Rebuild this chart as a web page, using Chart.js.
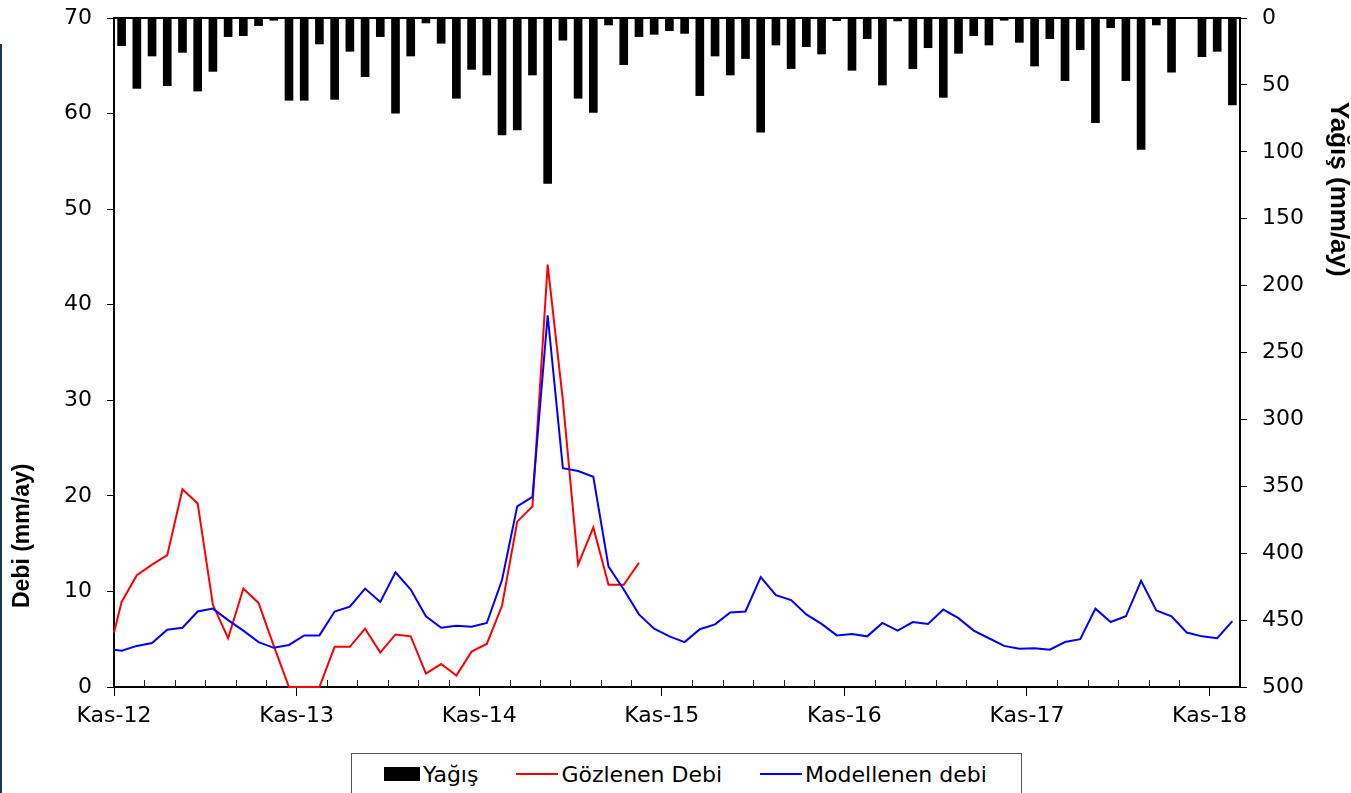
<!DOCTYPE html>
<html lang="tr">
<head>
<meta charset="utf-8">
<title>Yağış ve Debi</title>
<script src="https://cdn.jsdelivr.net/npm/chart.js@4.4.1/dist/chart.umd.min.js"></script>
<style>
  html, body { margin: 0; padding: 0; background: #fff; overflow: hidden; }
  #wrap { position: relative; width: 1351px; height: 793px; }
  #edge { position: absolute; left: 0; top: 44px; width: 2px; height: 749px; background: #1b3a48; }
  #legend {
    position: absolute; left: 351px; top: 753px; width: 669px; height: 40px;
    border: 1px solid #555; background: #fff;
    display: flex; align-items: center;
    font-family: "DejaVu Sans", sans-serif; font-size: 22px; color: #000;
  }
  #legend .item { display: flex; align-items: center; margin-left: 38px; white-space: nowrap; }
  #legend .item:first-child { margin-left: 32px; }
  #legend .sw { display: inline-block; margin-right: 3px; }
</style>
</head>
<body>
<div id="wrap">
  <canvas id="c" width="1351" height="793"></canvas>
  <div id="edge"></div>
  <div id="legend"></div>
</div>
<script>
// Axis labels: one every 12 months, starting November 2012
const tickLabels = ['Kas-12', 'Kas-13', 'Kas-14', 'Kas-15', 'Kas-16', 'Kas-17', 'Kas-18'];

// Monthly precipitation (mm/ay), Kasım 2012 – Aralık 2018
const yagis = [
  20.7, 52.6, 28.4, 50.6, 25.7, 54.6, 39.9, 13.9, 13.2, 5.7, 1.7, 61.5,
  61.5, 19.4, 60.8, 24.9, 43.8, 13.9, 71.2, 28.4, 3.7, 18.9, 60.0, 38.4,
  42.6, 87.4, 83.7, 42.6, 123.6, 16.6, 60.0, 70.5, 5.2, 34.9, 13.9, 12.2,
  9.5, 11.5, 58.0, 28.4, 42.6, 30.3, 85.4, 20.2, 37.8, 21.4, 26.9, 2.0,
  39.1, 15.4, 50.1, 2.2, 37.9, 22.2, 59.3, 26.4, 13.2, 20.2, 1.7, 18.2,
  35.9, 15.4, 46.8, 23.7, 78.2, 7.2, 46.8, 98.2, 5.2, 40.5, 0, 28.9,
  24.9, 65.0
];

// Observed discharge (mm/ay); first value sits at the start of the period
const gozlenenDebi = [
  5.7, 8.9, 11.7, 12.8, 13.8, 20.7, 19.2, 8.6, 5.1, 10.3, 8.8, 4.3,
  0, 0, 0, 4.2, 4.2, 6.1, 3.6, 5.5, 5.3, 1.4, 2.4, 1.2,
  3.7, 4.5, 8.5, 17.3, 18.9, 44.2, 30.0, 12.8, 16.7, 10.7, 10.7, 13.0
];

// Modelled discharge (mm/ay)
const modellenenDebi = [
  3.9, 3.8, 4.3, 4.6, 6.0, 6.2, 7.9, 8.2, 7.0, 5.9, 4.7, 4.1,
  4.4, 5.4, 5.4, 7.9, 8.4, 10.3, 8.9, 12.0, 10.2, 7.4, 6.2, 6.4,
  6.3, 6.7, 11.2, 18.9, 19.9, 38.9, 22.9, 22.6, 22.0, 12.6, 10.2, 7.6,
  6.1, 5.3, 4.7, 6.05, 6.55, 7.8, 7.9, 11.5, 9.6, 9.1, 7.6, 6.6,
  5.4, 5.55, 5.3, 6.7, 5.9, 6.8, 6.6, 8.1, 7.2, 5.9, 5.1, 4.3,
  4.0, 4.05, 3.9, 4.7, 5.0, 8.2, 6.8, 7.4, 11.1, 8.0, 7.4, 5.7,
  5.3, 5.1, 6.9
];

// Month offsets from Kasım 2012: bars sit mid-month, the lines start at the axis origin
const barX = i => i + 0.5;
const lineX = i => (i === 0 ? 0 : i - 0.5);

const TICK_FONT = { family: '"DejaVu Sans", sans-serif', size: 22 };

// keep the plot box fixed: no extra room reserved for overhanging labels
const fixWidth = w => s => { s.width = w; s.paddingTop = 0; s.paddingBottom = 0; };
const fixHeight = h => s => { s.height = h; s.paddingLeft = 0; s.paddingRight = 0; };

const framePlugin = {
  id: 'frame',
  afterDraw(chart) {
    const { ctx, chartArea: a, scales } = chart;
    const x = scales.x;
    ctx.save();
    // baseline of the hanging precipitation bars
    ctx.strokeStyle = '#000';
    ctx.lineWidth = 2;
    ctx.beginPath();
    ctx.moveTo(a.left - 1, a.top);
    ctx.lineTo(a.right + 1, a.top);
    ctx.stroke();
    // bimonthly minor ticks pointing into the plot
    ctx.lineWidth = 1;
    ctx.strokeStyle = '#222';
    for (let m = 2; m < x.max; m += 2) {
      if (m % 12 === 0) continue;
      const px = Math.round(x.getPixelForValue(m)) + 0.5;
      ctx.beginPath();
      ctx.moveTo(px, a.bottom);
      ctx.lineTo(px, a.bottom - 7);
      ctx.stroke();
    }
    // axis titles
    ctx.fillStyle = '#000';
    ctx.textAlign = 'center';
    ctx.textBaseline = 'middle';
    ctx.font = 'bold 23px "Liberation Sans", Arial, sans-serif';
    ctx.translate(23, a.top + 0.774 * (a.bottom - a.top));
    ctx.rotate(-Math.PI / 2);
    ctx.fillText('Debi (mm/ay)', 0, 0);
    ctx.restore();
    ctx.save();
    ctx.fillStyle = '#000';
    ctx.textAlign = 'center';
    ctx.textBaseline = 'middle';
    ctx.font = 'bold 26px "Liberation Sans", Arial, sans-serif';
    ctx.translate(1338, a.top + 0.256 * (a.bottom - a.top));
    ctx.rotate(Math.PI / 2);
    ctx.fillText('Yağış (mm/ay)', 0, 0);
    ctx.restore();
  }
};

const chart = new Chart(document.getElementById('c'), {
  data: {
    datasets: [
      {
        type: 'bar',
        label: 'Yağış',
        data: yagis.map((v, i) => ({ x: barX(i), y: v })),
        xAxisID: 'x',
        yAxisID: 'y2',
        backgroundColor: '#000',
        borderWidth: 0,
        barThickness: 8,
        grouped: false,
        order: 3
      },
      {
        type: 'line',
        label: 'Gözlenen Debi',
        data: gozlenenDebi.map((v, i) => ({ x: lineX(i), y: v })),
        xAxisID: 'x',
        yAxisID: 'y',
        borderColor: '#ff0000',
        borderWidth: 2,
        pointRadius: 0,
        tension: 0,
        clip: 4,
        order: 2
      },
      {
        type: 'line',
        label: 'Modellenen debi',
        data: modellenenDebi.map((v, i) => ({ x: lineX(i), y: v })),
        xAxisID: 'x',
        yAxisID: 'y',
        borderColor: '#0000ff',
        borderWidth: 2,
        pointRadius: 0,
        tension: 0,
        clip: 4,
        order: 1
      }
    ]
  },
  options: {
    responsive: false,
    animation: false,
    events: [],
    layout: { padding: { top: 18, left: 0, right: 0, bottom: 0 } },
    plugins: { legend: { display: false }, tooltip: { enabled: false } },
    scales: {
      x: {
        type: 'linear',
        position: 'bottom',
        offset: false,
        min: 0,
        max: 74,
        afterFit: fixHeight(106),
        border: { display: true, color: '#000', width: 2 },
        grid: {
          offset: false,
          drawOnChartArea: false,
          drawTicks: true,
          tickLength: 9,
          color: c => (c.tick && c.tick.value % 12 === 0 ? '#000' : 'rgba(0,0,0,0)')
        },
        ticks: {
          stepSize: 2,
          autoSkip: false,
          maxRotation: 0,
          padding: 7,
          color: '#000',
          font: TICK_FONT,
          callback: v => (v % 12 === 0 ? tickLabels[v / 12] : '')
        }
      },
      y: {
        type: 'linear',
        position: 'left',
        min: 0,
        max: 70,
        afterFit: fixWidth(114),
        border: { display: true, color: '#000', width: 2 },
        grid: { drawOnChartArea: false, drawTicks: true, tickLength: 7, color: '#000' },
        ticks: { stepSize: 10, padding: 15, color: '#000', font: TICK_FONT }
      },
      y2: {
        type: 'linear',
        position: 'right',
        reverse: true,
        min: 0,
        max: 500,
        afterFit: fixWidth(111),
        border: { display: true, color: '#000', width: 2 },
        grid: { drawOnChartArea: false, drawTicks: true, tickLength: 7, color: '#000' },
        ticks: { stepSize: 50, padding: 15, color: '#000', font: TICK_FONT }
      }
    }
  },
  plugins: [framePlugin]
});

// Legend built from the chart's own datasets
const legend = document.getElementById('legend');
chart.data.datasets.forEach(ds => {
  const item = document.createElement('div');
  item.className = 'item';
  const sw = document.createElement('span');
  sw.className = 'sw';
  if (ds.type === 'bar') {
    sw.style.width = '36px';
    sw.style.height = '14px';
    sw.style.background = ds.backgroundColor;
  } else {
    sw.style.width = '42px';
    sw.style.height = '2px';
    sw.style.background = ds.borderColor;
  }
  const txt = document.createElement('span');
  txt.textContent = ds.label;
  item.appendChild(sw);
  item.appendChild(txt);
  legend.appendChild(item);
});
</script>
</body>
</html>
